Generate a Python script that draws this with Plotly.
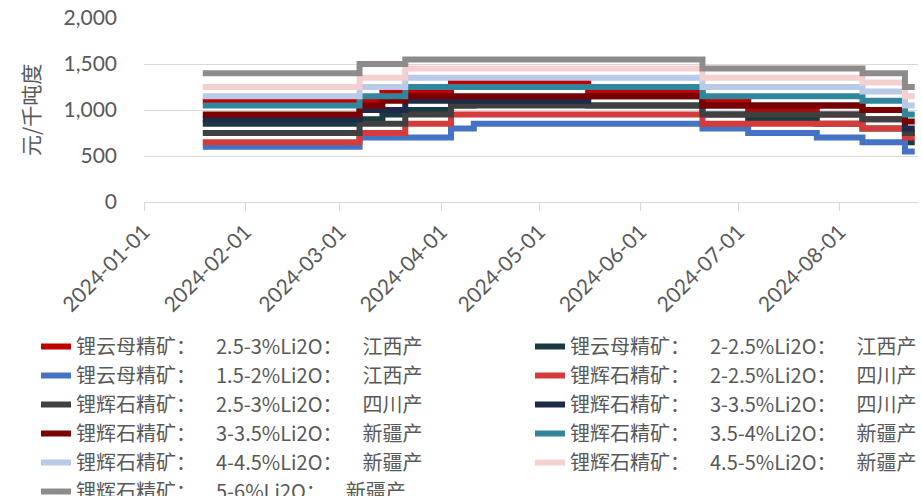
import plotly.graph_objects as go

# change points (value in effect from each date); last entry is the final observation
dates = ["2024-01-19", "2024-03-07", "2024-03-14", "2024-03-21", "2024-04-04", "2024-04-11",
         "2024-05-16", "2024-06-20", "2024-07-04", "2024-07-25", "2024-08-08", "2024-08-21",
         "2024-08-24"]

names = [
    "锂云母精矿：\u20032.5-3%Li2O：\u2003江西产",
    "锂云母精矿：\u20032-2.5%Li2O：\u2003江西产",
    "锂云母精矿：\u20031.5-2%Li2O：\u2003江西产",
    "锂辉石精矿：\u20032-2.5%Li2O：\u2003四川产",
    "锂辉石精矿：\u20032.5-3%Li2O：\u2003四川产",
    "锂辉石精矿：\u20033-3.5%Li2O：\u2003四川产",
    "锂辉石精矿：\u20033-3.5%Li2O：\u2003新疆产",
    "锂辉石精矿：\u20033.5-4%Li2O：\u2003新疆产",
    "锂辉石精矿：\u20034-4.5%Li2O：\u2003新疆产",
    "锂辉石精矿：\u20034.5-5%Li2O：\u2003新疆产",
    "锂辉石精矿：\u20035-6%Li2O：\u2003新疆产",
]

lep_25_3_jx = [1100, 1100, 1200, 1200, 1300, 1300, 1200, 1100, 1000, 950, 900, 750, 750]
lep_2_25_jx = [850, 900, 950, 1000, 1050, 1100, 1050, 950, 900, 850, 800, 650, 650]
lep_15_2_jx = [600, 700, 700, 700, 800, 850, 850, 800, 750, 700, 650, 550, 550]
spo_2_25_sc = [650, 750, 750, 850, 950, 950, 950, 850, 850, 850, 800, 700, 700]
spo_25_3_sc = [750, 850, 850, 950, 1050, 1050, 1050, 950, 950, 950, 900, 750, 750]
spo_3_35_sc = [900, 1000, 1000, 1100, 1100, 1100, 1150, 1050, 1050, 1050, 1000, 800, 800]
spo_3_35_xj = [950, 1050, 1100, 1150, 1150, 1150, 1150, 1050, 1050, 1050, 1000, 875, 875]
spo_35_4_xj = [1050, 1150, 1150, 1250, 1250, 1250, 1250, 1150, 1150, 1150, 1100, 950, 950]
spo_4_45_xj = [1150, 1250, 1250, 1350, 1350, 1350, 1350, 1250, 1250, 1250, 1200, 1050, 1050]
spo_45_5_xj = [1250, 1350, 1350, 1450, 1450, 1450, 1450, 1350, 1350, 1350, 1300, 1150, 1150]
spo_5_6_xj = [1400, 1500, 1500, 1550, 1550, 1550, 1550, 1450, 1450, 1450, 1400, 1250, 1250]

series = [lep_25_3_jx, lep_2_25_jx, lep_15_2_jx, spo_2_25_sc, spo_25_3_sc, spo_3_35_sc,
          spo_3_35_xj, spo_35_4_xj, spo_4_45_xj, spo_45_5_xj, spo_5_6_xj]

colors = ["#C00000", "#183A40", "#4472C4", "#D43B3B", "#404040", "#1E2A4A",
          "#7A0000", "#31869B", "#B9C9E8", "#F4D0D0", "#8F8B8B"]

y_ticks = [0, 500, 1000, 1500, 2000]
y_title = "元/千吨度"

TXT = "#595959"
W, H = 922, 496
plot_l, plot_r, plot_t, plot_b = 144, 918, 18, 202
plot_w = plot_r - plot_l

def xpaper(px):
    return (px - plot_l) / plot_w

fig = go.Figure()
for i, (nm, vals, col) in enumerate(zip(names, series, colors)):
    fig.add_trace(go.Scatter(
        x=dates, y=vals, name=nm, mode="lines",
        line=dict(color=col, width=6, shape="hv"),
        legend="legend" if i % 2 == 0 else "legend2",
    ))

leg_common = dict(
    orientation="v", yanchor="top", xanchor="left",
    xref="paper", yref="container",
    font=dict(family="Noto Sans CJK SC", size=20, color=TXT),
    bgcolor="rgba(0,0,0,0)", tracegroupgap=0,
)
leg_top = 327
fig.update_layout(
    width=W, height=H, autosize=False,
    margin=dict(l=plot_l, r=W - plot_r, t=plot_t, b=H - plot_b),
    paper_bgcolor="white", plot_bgcolor="white",
    font=dict(family="Lato, Noto Sans CJK SC", color=TXT),
    legend=dict(x=xpaper(36), y=1 - leg_top / H, **leg_common),
    legend2=dict(x=xpaper(535), y=1 - leg_top / H, **leg_common),
    xaxis=dict(
        type="date", range=["2024-01-01", "2024-08-25"], automargin=False,
        tick0="2024-01-01", dtick="M1", tickformat="%Y-%m-%d", tickangle=-45,
        ticks="outside", ticklen=8, tickcolor="#D9D9D9", tickwidth=1.3,
        showline=True, linecolor="#D9D9D9", linewidth=1.3, showgrid=False,
        tickfont=dict(family="Lato", size=21, color=TXT),
    ),
    yaxis=dict(
        range=[0, 2000], tickvals=y_ticks, tickformat=",", automargin=False,
        showgrid=True, gridcolor="#D9D9D9", gridwidth=1.3,
        zeroline=False, showline=False, ticks="",
        ticklabelstandoff=26,
        tickfont=dict(family="Lato", size=21, color=TXT),
    ),
    annotations=[dict(
        text=y_title, textangle=-90, showarrow=False,
        xref="paper", yref="paper", x=xpaper(30), y=0.5,
        xanchor="center", yanchor="middle",
        font=dict(family="Noto Sans CJK SC", size=21, color=TXT),
    )],
)

fig.write_html("out.html", config={"displayModeBar": False},
               post_script="document.body.style.margin='0';")
